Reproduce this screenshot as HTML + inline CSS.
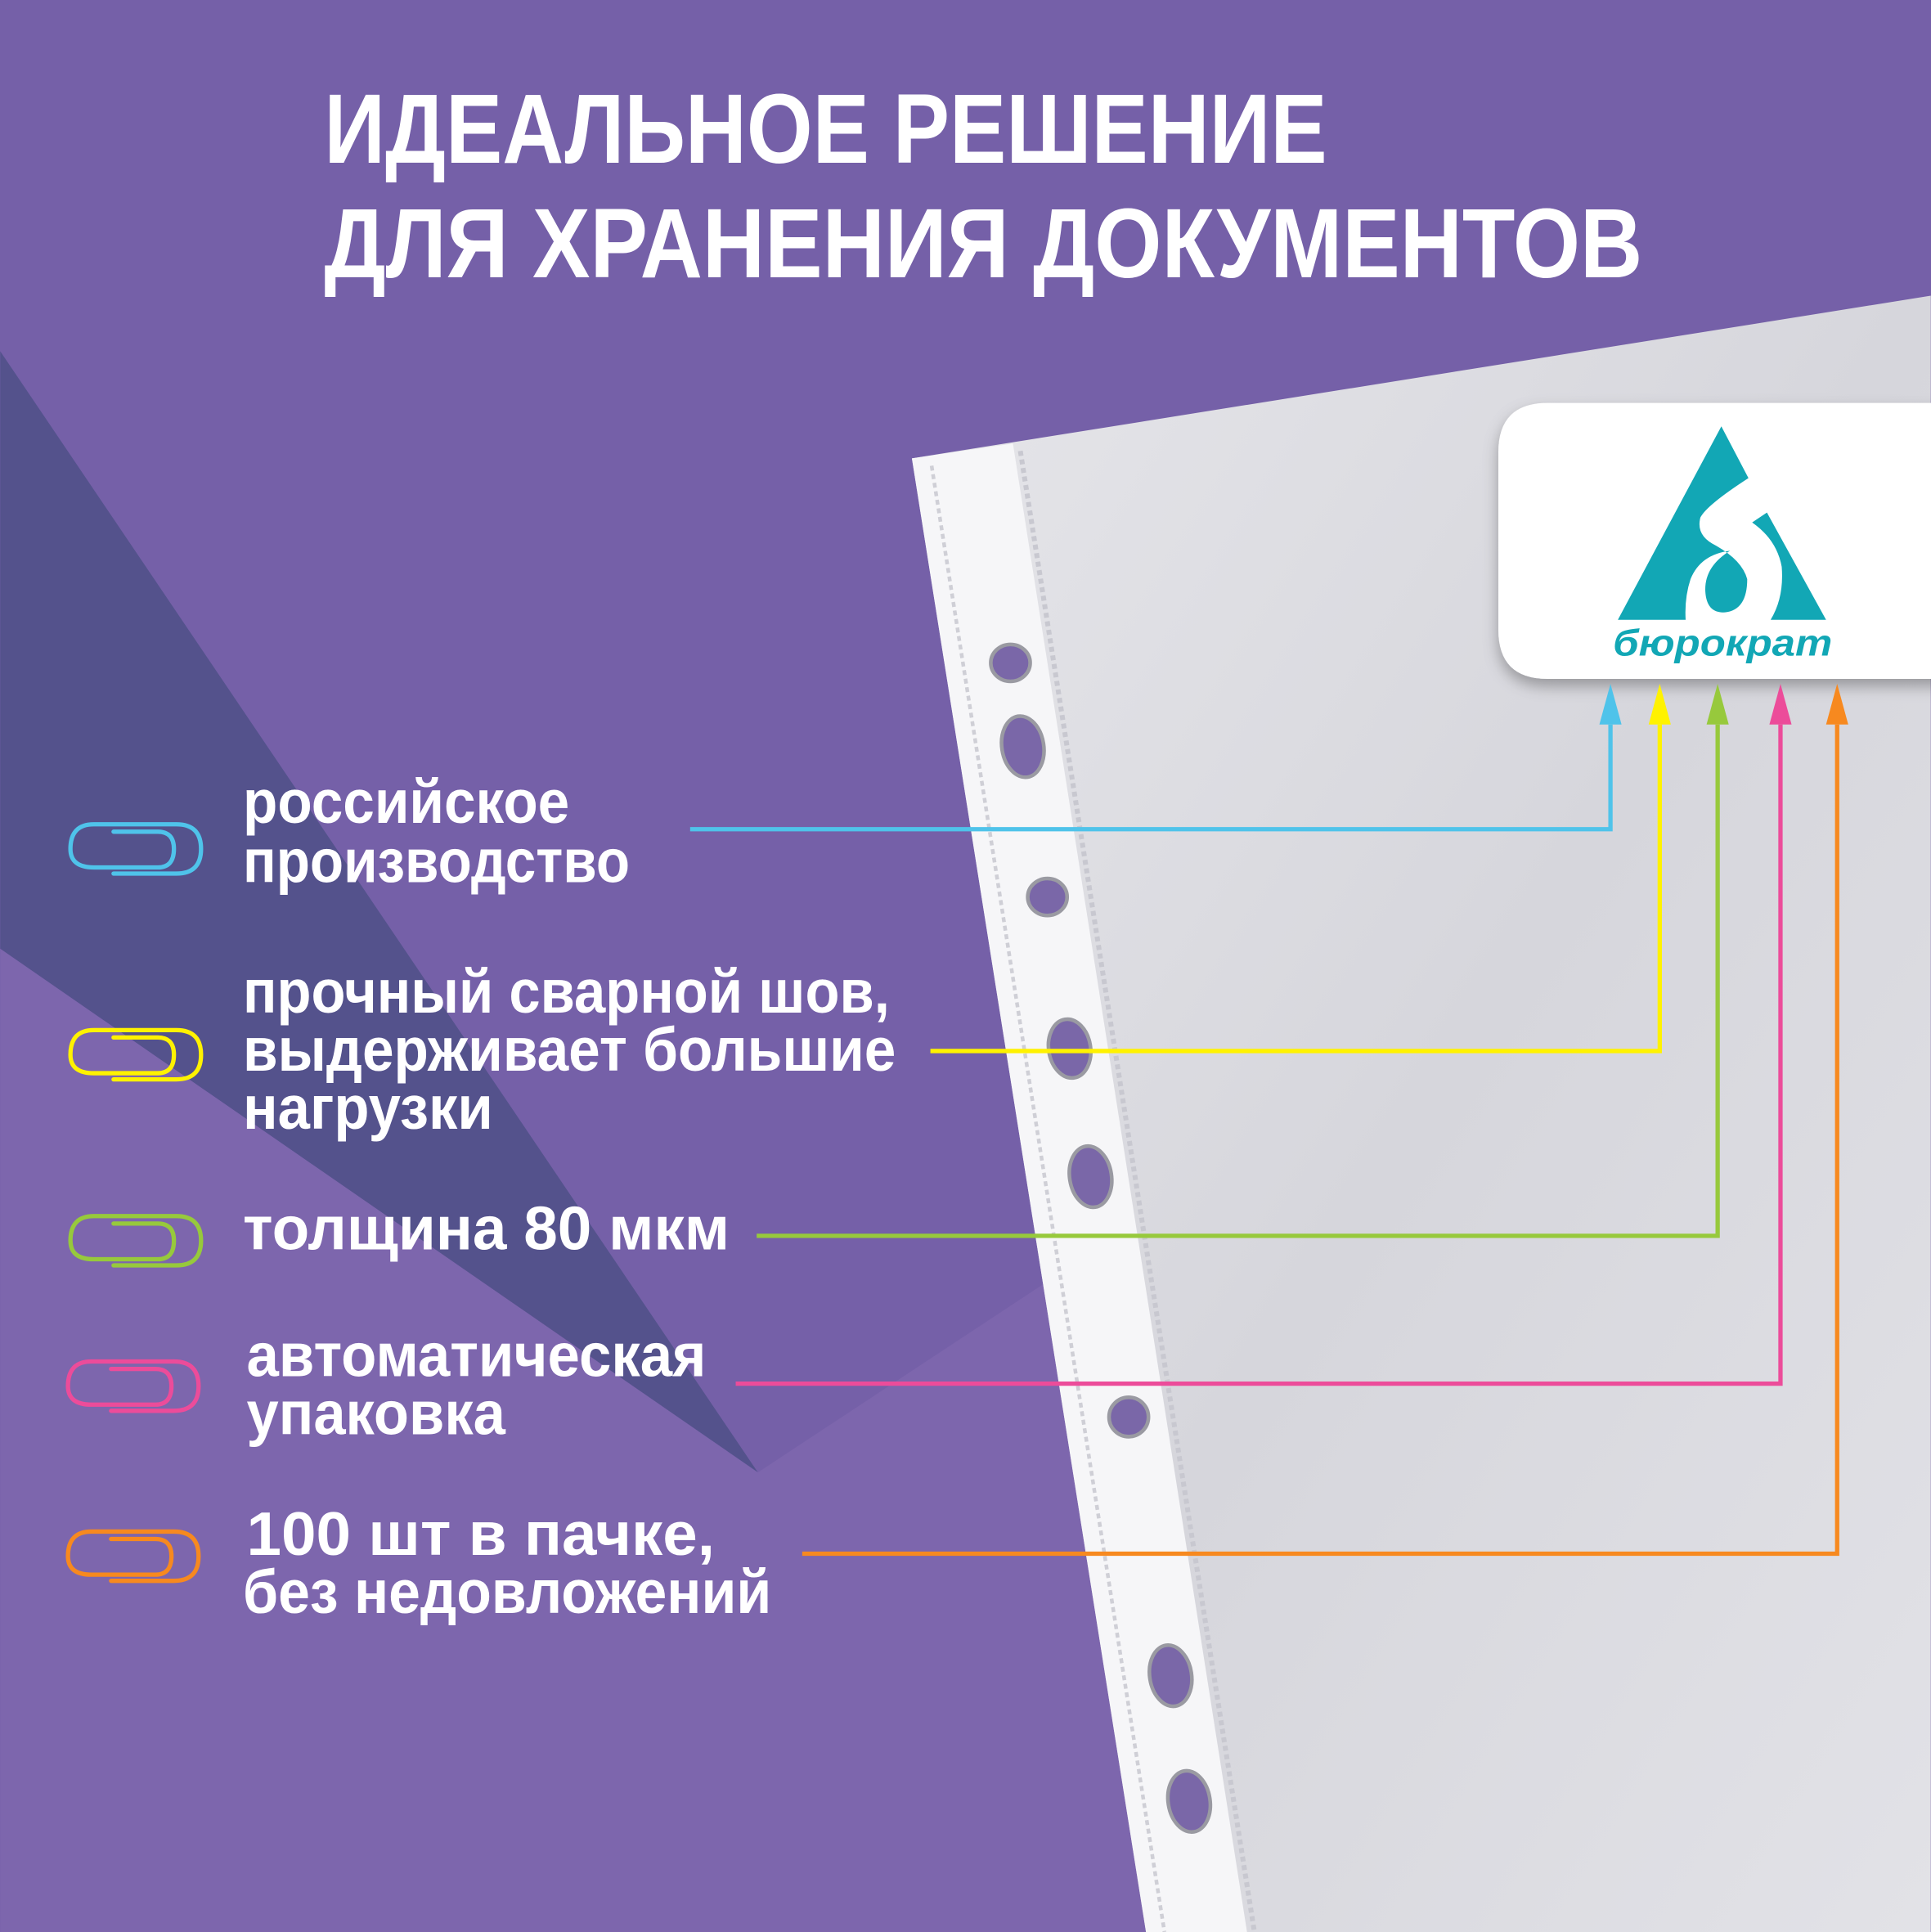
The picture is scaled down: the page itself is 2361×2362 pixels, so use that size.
<!DOCTYPE html>
<html><head><meta charset="utf-8"><style>html,body{margin:0;padding:0;background:#7560a8}svg{display:block}</style></head>
<body>
<svg width="2361" height="2362" viewBox="0 0 1567 1568" xmlns="http://www.w3.org/2000/svg">
<defs>
<linearGradient id="sh" x1="0" y1="0" x2="1" y2="1">
<stop offset="0" stop-color="#e6e6ea"/><stop offset="0.5" stop-color="#d6d6dc"/><stop offset="1" stop-color="#e2e2e7"/>
</linearGradient>
<filter id="ds" x="-10%" y="-10%" width="130%" height="140%"><feDropShadow dx="0" dy="6" stdDeviation="6" flood-color="#000" flood-opacity="0.3"/></filter>
</defs>
<rect width="1567" height="1568" fill="#7560a8"/>
<polygon points="0,285 615,1195 0,770" fill="#54528c"/>
<polygon points="0,770 615,1195 850,1040 940,1568 0,1568" fill="#7d66ad"/>
<polygon points="740,372 1567,240 1567,1568 930,1568" fill="url(#sh)"/>
<polygon points="740,372 822,360 1012,1568 930,1568" fill="#f6f6f8"/>
<line x1="756" y1="378" x2="945" y2="1568" stroke="#cfcfd6" stroke-width="3" stroke-dasharray="4 3"/>
<line x1="828" y1="366" x2="1018" y2="1568" stroke="#c8c8d0" stroke-width="4" stroke-dasharray="4 3"/>
<g fill="#7a67a8" stroke="#9a9aa2" stroke-width="3">
<ellipse cx="820" cy="538" rx="16" ry="15"/>
<ellipse cx="830" cy="606" rx="17" ry="25" transform="rotate(-9 830 606)"/>
<ellipse cx="850" cy="728" rx="16" ry="15"/>
<ellipse cx="868" cy="851" rx="17" ry="24" transform="rotate(-9 868 851)"/>
<ellipse cx="885" cy="955" rx="17" ry="25" transform="rotate(-9 885 955)"/>
<ellipse cx="916" cy="1150" rx="16" ry="16"/>
<ellipse cx="950" cy="1360" rx="17" ry="25" transform="rotate(-9 950 1360)"/>
<ellipse cx="965" cy="1462" rx="17" ry="25" transform="rotate(-9 965 1462)"/>
</g>
<path d="M1256,327 H1580 V551 H1256 Q1216,551 1216,511 V367 Q1216,327 1256,327 Z" fill="#fff" filter="url(#ds)"/>
<path d="M1313,503 L1397,346 L1419,388 Q1385,410 1380,420 Q1376,435 1393,443 Q1414,455 1418,470 Q1418,495 1400,497 Q1385,498 1384,480 Q1383,460 1404,447 Q1380,450 1372,470 Q1367,485 1368,503 Z M1422,424 L1434,416 L1482,503 L1437,503 Q1448,485 1446,460 Q1442,438 1422,424 Z" fill="#12a7b5"/>
<text x="1398" y="532" font-family="Liberation Sans, sans-serif" font-weight="bold" font-style="italic" font-size="30" fill="#12a7b5" text-anchor="middle" textLength="178" lengthAdjust="spacingAndGlyphs">бюрократ</text>
<g font-family="Liberation Sans, sans-serif" font-weight="bold" fill="#fff" font-size="80">
<text x="263" y="132" textLength="814" lengthAdjust="spacingAndGlyphs">ИДЕАЛЬНОЕ РЕШЕНИЕ</text>
<text x="263" y="225" textLength="1070" lengthAdjust="spacingAndGlyphs">ДЛЯ ХРАНЕНИЯ ДОКУМЕНТОВ</text>
</g>
<g fill="none" stroke-width="3.5">
<polyline points="560,673 1307,673 1307,588" stroke="#4fc3ea"/>
<polyline points="755,853 1347,853 1347,588" stroke="#fff200"/>
<polyline points="614,1003 1394,1003 1394,588" stroke="#97c93c"/>
<polyline points="597,1123 1445,1123 1445,588" stroke="#ec4c9a"/>
<polyline points="651,1261 1491,1261 1491,588" stroke="#f7891f"/>
</g>
<polygon points="1298,588 1307,555 1316,588" fill="#4fc3ea"/>
<polygon points="1338,588 1347,555 1356,588" fill="#fff200"/>
<polygon points="1385,588 1394,555 1403,588" fill="#97c93c"/>
<polygon points="1436,588 1445,555 1454,588" fill="#ec4c9a"/>
<polygon points="1482,588 1491,555 1500,588" fill="#f7891f"/>
<g fill="none" stroke-width="3.5" stroke-linecap="round">
<g stroke="#4fc3ea" transform="translate(0,689)"><path d="M92,20 H143 Q163,20 163,0 Q163,-20 143,-20 H76 Q57,-20 57,0 Q57,15 76,15 H128 Q141,15 141,0 Q141,-14 128,-14 H92"/></g>
<g stroke="#fff200" transform="translate(0,856)"><path d="M92,20 H143 Q163,20 163,0 Q163,-20 143,-20 H76 Q57,-20 57,0 Q57,15 76,15 H128 Q141,15 141,0 Q141,-14 128,-14 H92"/></g>
<g stroke="#97c93c" transform="translate(0,1007)"><path d="M92,20 H143 Q163,20 163,0 Q163,-20 143,-20 H76 Q57,-20 57,0 Q57,15 76,15 H128 Q141,15 141,0 Q141,-14 128,-14 H92"/></g>
<g stroke="#ec4c9a" transform="translate(-2,1125)"><path d="M92,20 H143 Q163,20 163,0 Q163,-20 143,-20 H76 Q57,-20 57,0 Q57,15 76,15 H128 Q141,15 141,0 Q141,-14 128,-14 H92"/></g>
<g stroke="#f7891f" transform="translate(-2,1263)"><path d="M92,20 H143 Q163,20 163,0 Q163,-20 143,-20 H76 Q57,-20 57,0 Q57,15 76,15 H128 Q141,15 141,0 Q141,-14 128,-14 H92"/></g>
</g>
<g font-family="Liberation Sans, sans-serif" font-weight="bold" fill="#fff" font-size="50">
<text x="197" y="668" textLength="265" lengthAdjust="spacingAndGlyphs">российское</text>
<text x="197" y="716" textLength="314" lengthAdjust="spacingAndGlyphs">производство</text>
<text x="197" y="822" textLength="525" lengthAdjust="spacingAndGlyphs">прочный сварной шов,</text>
<text x="197" y="869" textLength="530" lengthAdjust="spacingAndGlyphs">выдерживает большие</text>
<text x="197" y="916" textLength="203" lengthAdjust="spacingAndGlyphs">нагрузки</text>
<text x="197" y="1014" textLength="395" lengthAdjust="spacingAndGlyphs">толщина 80 мкм</text>
<text x="200" y="1117" textLength="373" lengthAdjust="spacingAndGlyphs">автоматическая</text>
<text x="200" y="1164" textLength="210" lengthAdjust="spacingAndGlyphs">упаковка</text>
<text x="200" y="1262" textLength="380" lengthAdjust="spacingAndGlyphs">100 шт в пачке,</text>
<text x="197" y="1309" textLength="429" lengthAdjust="spacingAndGlyphs">без недовложений</text>
</g>
</svg>
</body></html>
